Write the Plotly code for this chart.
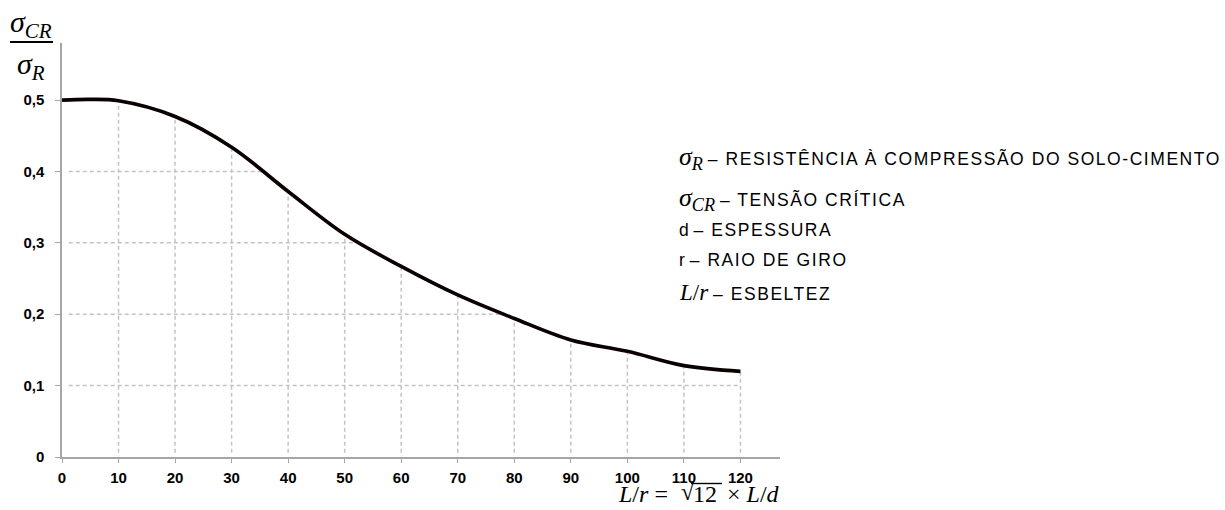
import plotly.graph_objects as go

# ---- data ----
L_r = [0, 5, 10, 20, 30, 40, 50, 60, 70, 80, 90, 100, 110, 120]
sigma_ratio = [0.500, 0.501, 0.499, 0.477, 0.434, 0.372, 0.312, 0.267, 0.227, 0.194, 0.164, 0.148, 0.128, 0.120]

x_ticks = [0, 10, 20, 30, 40, 50, 60, 70, 80, 90, 100, 110, 120]
y_ticks = [0, 0.1, 0.2, 0.3, 0.4, 0.5]

drop_x = [10, 20, 30, 40, 50, 60, 70, 80, 90, 100, 110, 120]
drop_x_top = [0.499, 0.477, 0.434, 0.372, 0.312, 0.267, 0.227, 0.194, 0.164, 0.148, 0.128, 0.120]
drop_y = [0.1, 0.2, 0.3, 0.4]
drop_y_end = [120, 78, 53, 36]

legend_lines = [
    ('σ', 'R', 'RESISTÊNCIA À COMPRESSÃO DO SOLO-CIMENTO'),
    ('σ', 'CR', 'TENSÃO CRÍTICA'),
    ('d', None, 'ESPESSURA'),
    ('r', None, 'RAIO DE GIRO'),
    ('L/r', None, 'ESBELTEZ'),
]

# ---- layout geometry (pixels) ----
W, H = 1225, 510
ML, MR, MT, MB = 62, 445, 43, 53
PW, PH = W - ML - MR, H - MT - MB

def px(x):
    return (x - ML) / PW

def py(y):
    return (H - MB - y) / PH

GRID = '#c4c4c4'
AXIS = '#a6a6a6'
SANS = 'Liberation Sans, Arial, sans-serif'
SERIF = 'Liberation Serif, Times New Roman, serif'

fig = go.Figure()

fig.add_trace(go.Scatter(
    x=L_r, y=sigma_ratio, mode='lines',
    line=dict(color='#0a0000', width=3.6, shape='spline', smoothing=1.0),
    showlegend=False, hoverinfo='skip', cliponaxis=False,
))

shapes = []
for xv, top in zip(drop_x, drop_x_top):
    shapes.append(dict(type='line', xref='x', yref='y', x0=xv, x1=xv, y0=0.006, y1=top,
                       line=dict(color=GRID, width=1.5, dash='4px,3px'), layer='below'))
for yv, xe in zip(drop_y, drop_y_end):
    shapes.append(dict(type='line', xref='x', yref='y', x0=1.2, x1=xe, y0=yv, y1=yv,
                       line=dict(color=GRID, width=1.5, dash='4px,3px'), layer='below'))
# fraction bar of y-axis label
shapes.append(dict(type='line', xref='paper', yref='paper', x0=px(10), x1=px(53), y0=py(42), y1=py(42),
                   line=dict(color='black', width=2)))
# vinculum of the square root in the x-axis label
shapes.append(dict(type='line', xref='paper', yref='paper', x0=px(691), x1=px(722), y0=py(483.5), y1=py(483.5),
                   line=dict(color='black', width=1.4)))

annotations = []
# y-axis label (fraction)
annotations.append(dict(xref='paper', yref='paper', x=px(31), y=py(24), xanchor='center', yanchor='middle',
                        text='<i>σ<sub>CR</sub></i>', showarrow=False,
                        font=dict(family=SERIF, size=30, color='black')))
annotations.append(dict(xref='paper', yref='paper', x=px(31), y=py(66), xanchor='center', yanchor='middle',
                        text='<i>σ<sub>R</sub></i>', showarrow=False,
                        font=dict(family=SERIF, size=30, color='black')))
# x-axis label, pieced together so the root sign can carry its bar
XL_Y = py(494)
annotations.append(dict(xref='paper', yref='paper', x=px(670), y=XL_Y, xanchor='right', yanchor='middle',
                        text='<i>L</i>/<i>r</i> =', showarrow=False,
                        font=dict(family=SERIF, size=24, color='black')))
annotations.append(dict(xref='paper', yref='paper', x=px(697), y=py(492), xanchor='right', yanchor='middle',
                        text='√', showarrow=False,
                        font=dict(family=SERIF, size=24, color='black')))
annotations.append(dict(xref='paper', yref='paper', x=px(691), y=XL_Y, xanchor='left', yanchor='middle',
                        text='12', showarrow=False,
                        font=dict(family=SERIF, size=24, color='black')))
annotations.append(dict(xref='paper', yref='paper', x=px(725), y=XL_Y, xanchor='left', yanchor='middle',
                        text='× <i>L</i>/<i>d</i>', showarrow=False,
                        font=dict(family=SERIF, size=24, color='black')))
# explanatory text
line_y = [158, 199, 230, 260, 292]
for (sym, sub, desc), yy in zip(legend_lines, line_y):
    if sub is not None:
        s = '<span style="font-family:Liberation Serif;font-size:26px"><i>%s<sub>%s</sub></i></span>' % (sym, sub)
    elif sym == 'L/r':
        s = '<span style="font-family:Liberation Serif;font-size:23px"><i>L</i>/<i>r</i></span>'
    else:
        s = sym
    annotations.append(dict(xref='paper', yref='paper', x=px(677), y=py(yy), xanchor='left', yanchor='middle',
                            text='%s <span style="letter-spacing:1.55px">– %s</span>' % (s, desc),
                            showarrow=False, align='left',
                            font=dict(family=SANS, size=17.5, color='black')))

fig.update_layout(
    width=W, height=H,
    margin=dict(l=ML, r=MR, t=MT, b=MB, pad=0),
    paper_bgcolor='white', plot_bgcolor='white',
    separators=',.',
    showlegend=False,
    shapes=shapes, annotations=annotations,
    xaxis=dict(range=[0, 127], tickvals=x_ticks, showgrid=False, zeroline=False,
               showline=True, linecolor=AXIS, linewidth=1.5,
               ticks='outside', ticklen=4, tickcolor=AXIS, tickwidth=1.2,
               ticklabelstandoff=2,
               tickfont=dict(family=SANS, size=15, color='black', weight='bold')),
    yaxis=dict(range=[0, 0.58], tickvals=y_ticks, showgrid=False, zeroline=False,
               showline=True, linecolor=AXIS, linewidth=1.5,
               ticks='outside', ticklen=5, tickcolor=AXIS, tickwidth=1.2,
               ticklabelstandoff=8,
               tickfont=dict(family=SANS, size=15, color='black', weight='bold')),
)

fig.write_html('out.html')
